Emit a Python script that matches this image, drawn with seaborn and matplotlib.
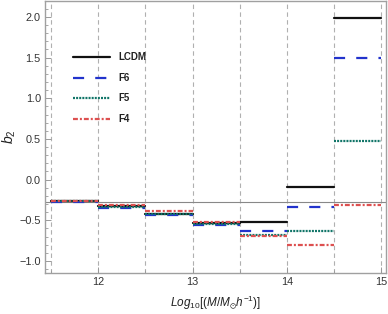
import seaborn as sns  # seaborn for the step lines
import matplotlib.pyplot as plt  # matplotlib for layout tweaks
import pandas as pd  # pandas for the long table
from matplotlib.ticker import MultipleLocator

# bin edges in log10 mass and b2 per bin for each model
bin_edges = [11.5, 12.0, 12.5, 13.0, 13.5, 14.0, 14.5, 15.0]
models = ["LCDM", "F6", "F5", "F4"]
b2_lcdm = [-0.265, -0.33, -0.42, -0.535, -0.52, -0.09, 1.99]
b2_f6 = [-0.27, -0.345, -0.435, -0.555, -0.63, -0.34, 1.49]
b2_f5 = [-0.265, -0.335, -0.42, -0.545, -0.68, -0.63, 0.47]
b2_f4 = [-0.26, -0.31, -0.39, -0.52, -0.69, -0.80, -0.31]
axis_origin = -0.28

# build long dataframe: each bin is a flat segment from left to right edge
rows = []
for name, vals in zip(models, [b2_lcdm, b2_f6, b2_f5, b2_f4]):
    for i, v in enumerate(vals):
        rows.append((name, i, bin_edges[i], v))
        rows.append((name, i, bin_edges[i + 1], v))
df = pd.DataFrame(rows, columns=["model", "bin", "logM", "b2"])

palette = {"LCDM": "#111111", "F6": "#2233cc", "F5": "#117568", "F4": "#dd5050"}
dashes = {"LCDM": "", "F6": (5.0, 5.0), "F5": (0.9, 0.5), "F4": (2.2, 0.9, 0.9, 0.9)}

sns.set_theme(style="white")
plt.rcParams["font.family"] = ["Liberation Sans", "DejaVu Sans"]
plt.rcParams["mathtext.fontset"] = "custom"
plt.rcParams["mathtext.it"] = "Liberation Sans:italic"
plt.rcParams["mathtext.rm"] = "Liberation Sans"
plt.rcParams["mathtext.fallback"] = "stixsans"

fig = plt.figure(figsize=(3.88, 3.14), dpi=100)
ax = fig.add_axes([0.116, 0.13, 0.879, 0.868])

# background guides: dashed verticals at bin edges, axis line at origin
for e in bin_edges:
    ax.axvline(e, color="#b0b0b0", lw=0.8, ls=(0, (4, 3)), zorder=0)
ax.axhline(axis_origin, color="#888888", lw=0.8, zorder=0)

sns.lineplot(data=df, x="logM", y="b2", hue="model", style="model", units="bin",
             estimator=None, palette=palette, dashes=dashes, hue_order=models,
             style_order=models, lw=1.6, ax=ax, legend=True)

ax.set_xlim(11.435, 15.05)
ax.set_ylim(-1.15, 2.2)
ax.xaxis.set_major_locator(MultipleLocator(1))
ax.xaxis.set_minor_locator(MultipleLocator(0.5))
ax.yaxis.set_major_locator(MultipleLocator(0.5))
ax.yaxis.set_minor_locator(MultipleLocator(0.1))
ax.tick_params(which="both", direction="in", colors="#999999", labelcolor="#333333",
               labelsize=7.8, left=True, bottom=True, top=False, right=False, pad=3)
ax.tick_params(which="major", length=4, width=0.7)
ax.tick_params(which="minor", length=2, width=0.6)
for s in ax.spines.values():
    s.set_color("#a0a0a0")
    s.set_linewidth(1.0)

ax.set_xlabel(r"$Log_{10}[(M/M_{\odot}h^{-1})]$", fontsize=8.5, color="#222222", labelpad=5)
ax.set_ylabel(r"$b_2$", fontsize=10, color="#222222")
ax.yaxis.set_label_coords(-0.08, 0.5)

leg = ax.legend(loc="upper left", bbox_to_anchor=(0.055, 0.842), frameon=False,
                fontsize=7, handlelength=3.9, handletextpad=0.8, labelspacing=1.08)
for t in leg.get_texts():
    t.set_fontweight("bold")
    t.set_color("#222222")

plt.savefig("out.png", dpi=100)
